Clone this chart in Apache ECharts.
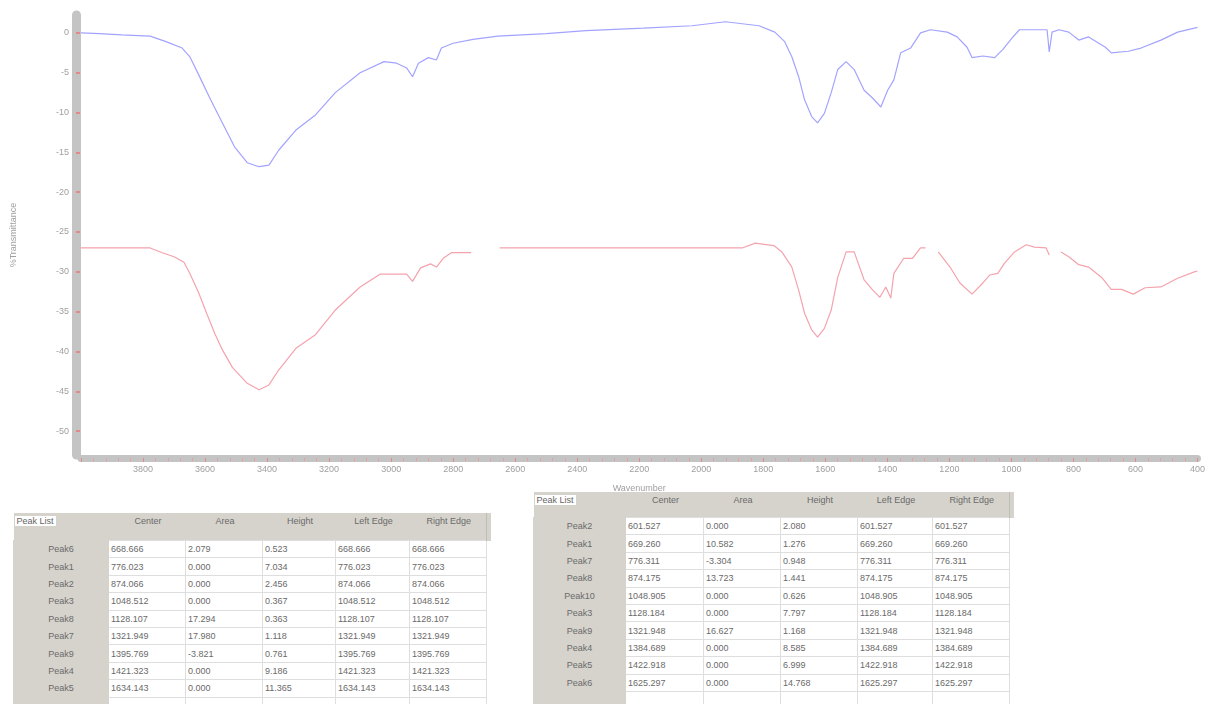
<!DOCTYPE html>
<html>
<head>
<meta charset="utf-8">
<script src="https://cdn.jsdelivr.net/npm/echarts@6/dist/echarts.min.js"></script>
<style>
  html, body { margin: 0; padding: 0; background: #fff; width: 1208px; height: 704px; overflow: hidden; }
  #chart { position: absolute; left: 0; top: 0; width: 1208px; height: 704px; }
  .tbl { position: absolute; border-collapse: collapse; table-layout: fixed; font-family: "Liberation Sans", Arial, sans-serif; font-size: 9px; color: #6a6a6a; z-index: 2; background: #fff; }
  .tbl td { padding: 0 0 0 2px; height: 16.4px; line-height: 12px; border: 1px solid #dedede; white-space: nowrap; overflow: hidden; background: #fff; }
  .tbl td.lab { background: #d6d3cc; text-align: center; border-color: #d6d3cc; padding: 0; }
  .tbl tr.hdr td { background: #d6d3cc; border: none; text-align: center; vertical-align: top; padding-top: 2px; }
  .tbl tr.hdr td.first { text-align: left; padding-left: 1px; }
  .pl { background: #fff; padding: 0 2px; color: #666; }
  .tbl td.ext { background: #fff; border: none; border-left: 1px solid #dedede; }
  .tbl tr.hdr td.ext { background: #d6d3cc; border-left: 1px solid #c0bdb6; }
</style>
</head>
<body>
<div id="chart"></div>
<table id="t1" class="tbl"></table>
<table id="t2" class="tbl"></table>
<script>
// ---- spectrum data (wavenumber cm-1, %T) ----
var blueWn = [4000,3940,3869,3777,3726,3674,3649,3620,3582,3544,3505,3464,3426,3394,3362,3307,3244,3180,3100,3023,2982,2950,2931,2912,2880,2854,2838,2800,2736,2656,2500,2372,2187,2030,1922,1814,1763,1731,1708,1686,1667,1644,1625,1603,1581,1560,1533,1507,1475,1447,1421,1399,1379,1357,1325,1293,1261,1207,1175,1143,1127,1092,1054,1028,997,974,901,885,878,869,847,815,783,751,697,678,623,582,518,464,410,400];
var blueT  = [0,-0.1,-0.25,-0.4,-1.1,-1.9,-3.0,-5.3,-8.4,-11.3,-14.3,-16.3,-16.8,-16.6,-14.7,-12.2,-10.3,-7.5,-5.0,-3.6,-3.8,-4.4,-5.5,-3.8,-3.1,-3.4,-1.9,-1.3,-0.8,-0.4,-0.1,0.3,0.6,0.9,1.4,0.9,0.1,-1.1,-3.0,-5.5,-8.4,-10.5,-11.3,-10.1,-7.5,-4.6,-3.6,-4.6,-7.2,-8.2,-9.3,-7.2,-5.9,-2.5,-1.9,0,0.4,0.1,-0.5,-1.8,-3.1,-2.9,-3.1,-2.1,-0.6,0.4,0.4,0.4,-2.4,0.1,0.4,0.1,-0.9,-0.5,-1.8,-2.5,-2.3,-1.9,-0.9,0.1,0.6,0.7];
var redWn = [4000,3777,3738,3700,3668,3649,3620,3595,3569,3544,3512,3464,3426,3394,3362,3307,3244,3180,3100,3036,2950,2931,2905,2873,2854,2832,2806,2742,2700,2650,2027,1868,1826,1766,1740,1708,1686,1667,1644,1625,1603,1581,1560,1533,1507,1475,1447,1424,1405,1389,1379,1347,1319,1293,1277,1256,1236,1198,1166,1127,1092,1070,1044,1022,990,952,926,888,878,860,840,815,783,751,709,678,645,607,569,518,464,410,400];
var redT  = [-27.0,-27.0,-27.6,-28.1,-28.8,-30.2,-32.7,-35.2,-37.7,-39.8,-42.0,-44.0,-44.8,-44.2,-42.3,-39.6,-37.9,-34.8,-31.9,-30.3,-30.3,-31.2,-29.5,-29.0,-29.4,-28.3,-27.6,-27.6,null,-27.0,-27.0,-27.0,-26.4,-26.7,-27.5,-29.4,-32.3,-35.2,-37.3,-38.2,-37.1,-34.8,-30.7,-27.5,-27.5,-31.0,-32.3,-33.2,-31.9,-33.3,-30.2,-28.3,-28.3,-27.0,-27.0,null,-27.5,-29.4,-31.4,-32.8,-31.4,-30.4,-30.2,-28.9,-27.5,-26.6,-26.9,-27.0,-27.9,null,-27.5,-28.1,-29.1,-29.4,-30.7,-32.2,-32.2,-32.8,-32.0,-31.9,-30.8,-30.0,-29.9];

// ---- axis tick labels ----
var yTicks = [0,-5,-10,-15,-20,-25,-30,-35,-40,-45,-50];
var xTickLabels = [3800,3600,3400,3200,3000,2800,2600,2400,2200,2000,1800,1600,1400,1200,1000,800,600,400];

// ---- peak tables ----
var tableCols = ["Center","Area","Height","Left Edge","Right Edge"];
var t1Names  = ["Peak6","Peak1","Peak2","Peak3","Peak8","Peak7","Peak9","Peak4","Peak5"];
var t1Center = ["668.666","776.023","874.066","1048.512","1128.107","1321.949","1395.769","1421.323","1634.143"];
var t1Area   = ["2.079","0.000","0.000","0.000","17.294","17.980","-3.821","0.000","0.000"];
var t1Height = ["0.523","7.034","2.456","0.367","0.363","1.118","0.761","9.186","11.365"];
var t1Left   = ["668.666","776.023","874.066","1048.512","1128.107","1321.949","1395.769","1421.323","1634.143"];
var t1Right  = ["668.666","776.023","874.066","1048.512","1128.107","1321.949","1395.769","1421.323","1634.143"];

var t2Names  = ["Peak2","Peak1","Peak7","Peak8","Peak10","Peak3","Peak9","Peak4","Peak5","Peak6"];
var t2Center = ["601.527","669.260","776.311","874.175","1048.905","1128.184","1321.948","1384.689","1422.918","1625.297"];
var t2Area   = ["0.000","10.582","-3.304","13.723","0.000","0.000","16.627","0.000","0.000","0.000"];
var t2Height = ["2.080","1.276","0.948","1.441","0.626","7.797","1.168","8.585","6.999","14.768"];
var t2Left   = ["601.527","669.260","776.311","874.175","1048.905","1128.184","1321.948","1384.689","1422.918","1625.297"];
var t2Right  = ["601.527","669.260","776.311","874.175","1048.905","1128.184","1321.948","1384.689","1422.918","1625.297"];

function pairs(xs, ys) {
  return xs.map(function (x, i) { return [x, ys[i] === null ? '-' : ys[i]]; });
}

var chart = echarts.init(document.getElementById('chart'), null, { renderer: 'canvas' });
var labelFont = { color: '#a0a0a0', fontSize: 9, fontFamily: 'Liberation Sans, Arial, sans-serif' };
chart.setOption({
  animation: false,
  backgroundColor: '#ffffff',
  grid: { left: 81, right: 0, top: 15, bottom: 249, containLabel: false },
  xAxis: {
    type: 'value', inverse: true, min: 400, max: 4000, interval: 200,
    offset: 3,
    name: 'Wavenumber', nameLocation: 'middle', nameGap: 26,
    nameTextStyle: { color: '#a0a0a0', fontSize: 9, fontFamily: 'Liberation Sans, Arial, sans-serif' },
    axisLine: { show: true, onZero: false, lineStyle: { color: '#c4c4c4', width: 7 } },
    axisTick: { show: true, length: 4, lineStyle: { color: '#e08a8a', width: 1 } },
    minorTick: { show: true, splitNumber: 5, length: 3, lineStyle: { color: '#e6a0a0', width: 1 } },
    axisLabel: Object.assign({
      margin: 7,
      customValues: xTickLabels,
      formatter: function (v) { return String(v); }
    }, labelFont),
    splitLine: { show: false }
  },
  yAxis: {
    type: 'value', min: -53, max: 2.25,
    offset: 5,
    name: '%Transmittance', nameLocation: 'middle', nameGap: 58, nameRotate: 90,
    nameTextStyle: { color: '#a0a0a0', fontSize: 9, fontFamily: 'Liberation Sans, Arial, sans-serif' },
    axisLine: { show: true, onZero: false, lineStyle: { color: '#c4c4c4', width: 9 } },
    axisTick: { show: true, length: 4, inside: true, customValues: yTicks, lineStyle: { color: '#e08a8a', width: 2 } },
    axisLabel: Object.assign({ margin: 7, customValues: yTicks }, labelFont),
    splitLine: { show: false }
  },
  series: [
    {
      type: 'line', name: 'A', data: pairs(blueWn, blueT), showSymbol: false, connectNulls: false,
      lineStyle: { color: '#a3a3ff', width: 1.2 }, z: 3
    },
    {
      type: 'line', name: 'B', data: pairs(redWn, redT), showSymbol: false, connectNulls: false,
      lineStyle: { color: '#f4a3ad', width: 1.2 }, z: 3
    }
  ]
});

function buildTable(id, left, top, widths, hdrH, names, cols) {
  var t = document.getElementById(id);
  t.style.left = left + 'px';
  t.style.top = top + 'px';
  var total = widths.reduce(function (a, b) { return a + b; }, 0);
  t.style.width = total + 'px';
  var cg = document.createElement('colgroup');
  widths.forEach(function (w) { var c = document.createElement('col'); c.style.width = w + 'px'; cg.appendChild(c); });
  t.appendChild(cg);
  var hr = document.createElement('tr');
  hr.className = 'hdr';
  var h0 = document.createElement('td'); h0.className = 'first';
  h0.innerHTML = '<span class="pl">Peak List</span>';
  h0.style.height = hdrH + 'px';
  hr.appendChild(h0);
  tableCols.forEach(function (c) { var td = document.createElement('td'); td.textContent = c; hr.appendChild(td); });
  var he = document.createElement('td'); he.className = 'ext'; hr.appendChild(he);
  t.appendChild(hr);
  names.forEach(function (n, i) {
    var tr = document.createElement('tr');
    var l = document.createElement('td'); l.className = 'lab'; l.textContent = n; tr.appendChild(l);
    cols.forEach(function (arr) { var td = document.createElement('td'); td.textContent = arr[i]; tr.appendChild(td); });
    var e = document.createElement('td'); e.className = 'ext'; tr.appendChild(e);
    t.appendChild(tr);
  });
  var tr = document.createElement('tr');
  var l = document.createElement('td'); l.className = 'lab'; tr.appendChild(l);
  for (var k = 0; k < cols.length; k++) { tr.appendChild(document.createElement('td')); }
  var e = document.createElement('td'); e.className = 'ext'; tr.appendChild(e);
  t.appendChild(tr);
}

buildTable('t1', 13, 513, [95, 77, 77, 73, 74, 77, 4], 25,
  t1Names, [t1Center, t1Area, t1Height, t1Left, t1Right]);
buildTable('t2', 533, 492, [92, 78, 77, 77, 75, 77, 4], 23,
  t2Names, [t2Center, t2Area, t2Height, t2Left, t2Right]);
</script>
</body>
</html>
